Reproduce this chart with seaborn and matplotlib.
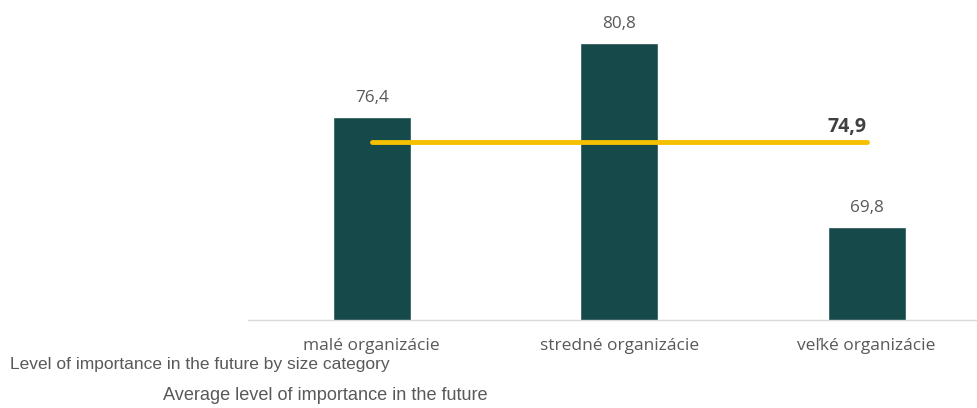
import matplotlib
matplotlib.use("Agg")
import matplotlib.pyplot as plt
import seaborn as sns
import numpy as np
import pandas as pd

categories = ["malé organizácie", "stredné organizácie", "veľké organizácie"]
values = [76.4, 80.8, 69.8]
average = [74.9, 74.9, 74.9]
value_labels = ["76,4", "80,8", "69,8"]
average_label = "74,9"
legend_bar = "Level of importance in the future by size category"
legend_line = "Average level of importance in the future"

sns.set_theme(style="white")
plt.rcParams['font.family'] = ['Open Sans', 'DejaVu Sans']

fig = plt.figure(figsize=(9.78, 4.08), dpi=100)
ax = fig.add_axes([248/978, 1-320/408, 730/978, 320/408])

df = pd.DataFrame({"cat": categories, "val": values})
sns.barplot(data=df, x="cat", y="val", color="#164a4a", saturation=1, width=0.315, ax=ax)

pos = np.arange(len(categories))
sns.lineplot(x=pos, y=average, color="#f5c000", linewidth=3.5, ax=ax,
             solid_capstyle="round")

ax.set_ylim(64.2, 83.4)
ax.set_xlim(-0.5, 2.45)
for p, v, lab in zip(pos, values, value_labels):
    ax.text(p, v + 1.15, lab, ha="center", va="center", fontsize=12.3, color="#595959")
ax.text(pos[-1], average[-1] + 0.9, average_label, ha="right", va="center",
        fontsize=14, fontweight="bold", color="#404040")

ax.set_xlabel("")
ax.set_ylabel("")
ax.set_yticks([])
ax.tick_params(axis="x", length=0, labelsize=12.5, labelcolor="#595959", pad=13)
for s in ["top", "right", "left"]:
    ax.spines[s].set_visible(False)
ax.spines["bottom"].set_color("#d9d9d9")
ax.spines["bottom"].set_linewidth(1)

fig.text(10/978, 1-364/408, legend_bar, ha="left", va="center", fontsize=12.5,
         color="#595959", family=["Liberation Sans", "DejaVu Sans"])
fig.text(163/978, 1-396/408, legend_line, ha="left", va="center", fontsize=13.1,
         color="#595959", family=["Liberation Sans", "DejaVu Sans"])

fig.savefig("out.png", dpi=100)
